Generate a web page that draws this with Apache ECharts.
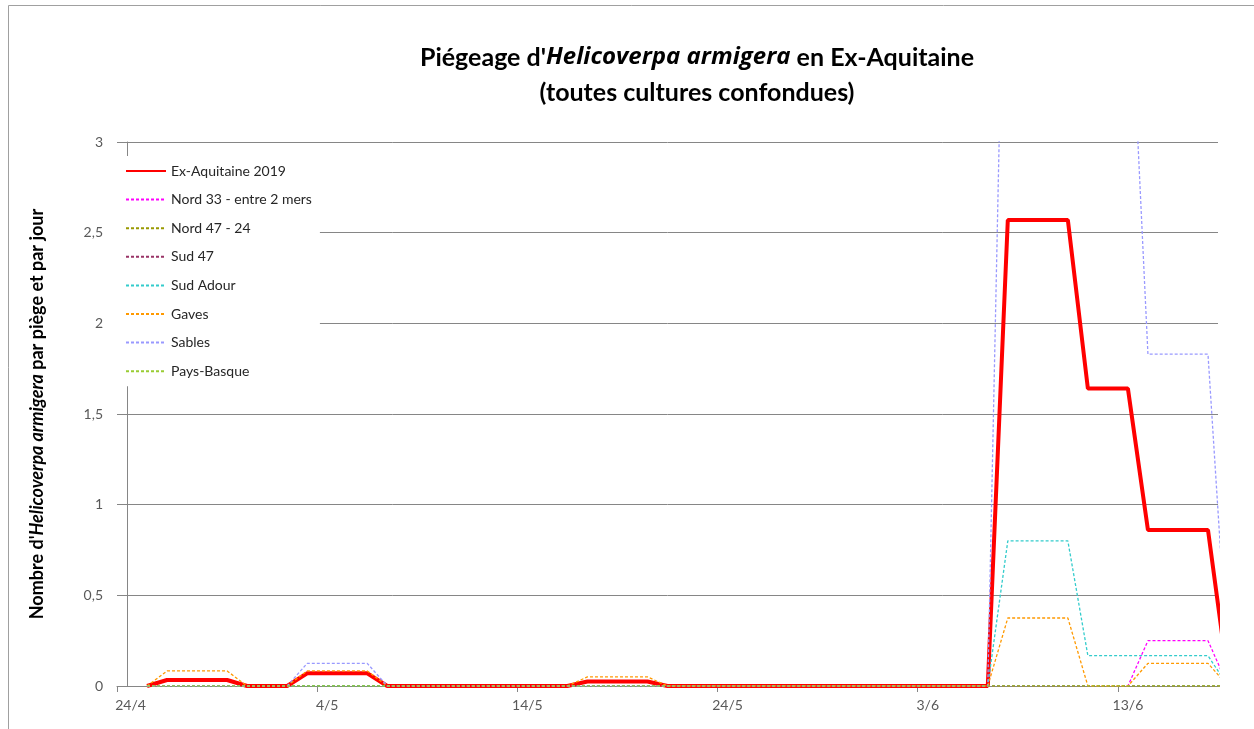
<!DOCTYPE html>
<html>
<head>
<meta charset="utf-8">
<title>Piégeage Helicoverpa armigera</title>
<script src="https://cdn.jsdelivr.net/npm/echarts@6.0.0/dist/echarts.min.js"></script>
<style>
  html, body { margin: 0; padding: 0; background: #fff; }
  #chart { width: 1254px; height: 729px; }
</style>
</head>
<body>
<div id="chart"></div>
<script>
// jours du 24/4 au 17/6 (+ 18/6 hors cadre)
let days = [];
(function () {
  let d = new Date(2019, 3, 24);
  for (let k = 0; k < 56; k++) {
    days.push(d.getDate() + "/" + (d.getMonth() + 1));
    d.setDate(d.getDate() + 1);
  }
})();
// jours étiquetés (index dans days) : 24/4, 4/5, 14/5, 24/5, 3/6, 13/6
let labelDays = [0, 10, 20, 30, 40, 50];

let seriesNames = [
  "Ex-Aquitaine 2019",
  "Nord 33 - entre 2 mers",
  "Nord 47 - 24",
  "Sud 47",
  "Sud Adour",
  "Gaves",
  "Sables",
  "Pays-Basque",
];
let seriesColors = ["#ff0000", "#ff00ff", "#999900", "#993366", "#33cccc", "#ff9900", "#9999ff", "#99cc33"];

// une valeur par jour, index 0 = 24/4 ... index 55 = 18/6
let exAquitaine = [null, 0, 0.033, 0.033, 0.033, 0.033, 0, 0, 0, 0.07, 0.07, 0.07, 0.07, 0, 0, 0, 0, 0, 0, 0, 0, 0, 0, 0.025, 0.025, 0.025, 0.025, 0, 0, 0, 0, 0, 0, 0, 0, 0, 0, 0, 0, 0, 0, 0, 0, 0, 2.57, 2.57, 2.57, 2.57, 1.64, 1.64, 1.64, 0.86, 0.86, 0.86, 0.86, 0.04];
let nord33 = [null, 0, 0, 0, 0, 0, 0, 0, 0, 0, 0, 0, 0, 0, 0, 0, 0, 0, 0, 0, 0, 0, 0, 0, 0, 0, 0, 0, 0, 0, 0, 0, 0, 0, 0, 0, 0, 0, 0, 0, 0, 0, 0, 0, 0, 0, 0, 0, 0, 0, 0, 0.25, 0.25, 0.25, 0.25, 0];
let nord4724 = [null, 0, 0, 0, 0, 0, 0, 0, 0, 0, 0, 0, 0, 0, 0, 0, 0, 0, 0, 0, 0, 0, 0, 0, 0, 0, 0, 0, 0, 0, 0, 0, 0, 0, 0, 0, 0, 0, 0, 0, 0, 0, 0, 0, 0, 0, 0, 0, 0, 0, 0, 0, 0, 0, 0, 0];
let sud47 = [null, 0, 0, 0, 0, 0, 0, 0, 0, 0, 0, 0, 0, 0, 0, 0, 0, 0, 0, 0, 0, 0, 0, 0, 0, 0, 0, 0, 0, 0, 0, 0, 0, 0, 0, 0, 0, 0, 0, 0, 0, 0, 0, 0, 0, 0, 0, 0, 0, 0, 0, 0, 0, 0, 0, 0];
let sudAdour = [null, 0, 0, 0, 0, 0, 0, 0, 0, 0, 0, 0, 0, 0, 0, 0, 0, 0, 0, 0, 0, 0, 0, 0, 0, 0, 0, 0, 0, 0, 0, 0, 0, 0, 0, 0, 0, 0, 0, 0, 0, 0, 0, 0, 0.8, 0.8, 0.8, 0.8, 0.167, 0.167, 0.167, 0.167, 0.167, 0.167, 0.167, 0];
let gaves = [null, 0, 0.083, 0.083, 0.083, 0.083, 0, 0, 0, 0.083, 0.083, 0.083, 0.083, 0, 0, 0, 0, 0, 0, 0, 0, 0, 0, 0.05, 0.05, 0.05, 0.05, 0, 0, 0, 0, 0, 0, 0, 0, 0, 0, 0, 0, 0, 0, 0, 0, 0, 0.375, 0.375, 0.375, 0.375, 0, 0, 0, 0.125, 0.125, 0.125, 0.125, 0];
let sables = [null, 0, 0, 0, 0, 0, 0, 0, 0, 0.125, 0.125, 0.125, 0.125, 0, 0, 0, 0, 0, 0, 0, 0, 0, 0, 0, 0, 0, 0, 0, 0, 0, 0, 0, 0, 0, 0, 0, 0, 0, 0, 0, 0, 0, 0, 0, 5.3, 5.3, 5.3, 5.3, 4.17, 4.17, 4.17, 1.83, 1.83, 1.83, 1.83, 0.1];
let paysBasque = [null, 0, 0, 0, 0, 0, 0, 0, 0, 0, 0, 0, 0, 0, 0, 0, 0, 0, 0, 0, 0, 0, 0, 0, 0, 0, 0, 0, 0, 0, 0, 0, 0, 0, 0, 0, 0, 0, 0, 0, 0, 0, 0, 0, 0, 0, 0, 0, 0, 0, 0, 0, 0, 0, 0, 0];

let allValues = [exAquitaine, nord33, nord4724, sud47, sudAdour, gaves, sables, paysBasque];
let yTicks = [0, 0.5, 1, 1.5, 2, 2.5, 3];

(function () {
  let mychart = echarts.init(document.getElementById("chart"));
  let font = "Lato, 'Open Sans', sans-serif";
  let italicFont = "'Open Sans', Lato, sans-serif";

  let series = allValues.map(function (vals, s) {
    return {
      name: seriesNames[s],
      type: "line",
      symbol: "none",
      data: vals.map(function (v, i) { return [i, v]; }),
      lineStyle: s === 0
        ? { color: seriesColors[s], width: 4 }
        : { color: seriesColors[s], width: 1.3, type: [3, 2] },
      itemStyle: { color: seriesColors[s] },
      animation: false,
    };
  });

  let option = {
    backgroundColor: "#fff",
    textStyle: { fontFamily: font },
    title: {
      text: "Piégeage d'{i|Helicoverpa armigera} en Ex-Aquitaine\n(toutes cultures confondues)",
      left: 692,
      top: 35,
      textAlign: "center",
      textStyle: {
        fontFamily: font,
        fontSize: 25,
        fontWeight: "bold",
        color: "#000",
        lineHeight: 35,
        rich: {
          i: { fontFamily: italicFont, fontSize: 24, fontWeight: "bold", fontStyle: "italic", color: "#000", lineHeight: 35 },
        },
      },
    },
    legend: {
      orient: "vertical",
      left: 117,
      top: 156,
      padding: [8, 8, 8, 8],
      itemWidth: 40,
      itemHeight: 14,
      itemGap: 14.6,
      backgroundColor: "#fff",
      // pas de rond dans la légende, juste le trait
      itemStyle: { opacity: 0 },
      textStyle: { fontFamily: font, fontSize: 14, color: "#262626" },
      data: seriesNames,
    },
    grid: { left: 117, right: 36, top: 142, bottom: 43, containLabel: false },
    xAxis: {
      type: "value",
      // une case par jour, graduations entre les jours
      min: -0.5,
      max: 54.5,
      axisLine: { lineStyle: { color: "#868686", width: 1 } },
      axisTick: {
        show: true,
        length: 6,
        lineStyle: { color: "#868686", width: 1 },
        customValues: labelDays.map(function (i) { return i - 0.5; }),
      },
      axisLabel: {
        color: "#595959",
        fontSize: 14,
        fontFamily: font,
        margin: 12,
        customValues: labelDays,
        formatter: function (v) {
          let idx = Math.round(v);
          // la première étiquette est recalée à gauche par ECharts
          return idx === labelDays[0] ? "{f|" + days[idx] + "}" : days[idx];
        },
        rich: { f: { color: "#595959", fontSize: 14, fontFamily: font, padding: [0, 0, 0, 7] } },
      },
      splitLine: { show: false },
    },
    yAxis: {
      type: "value",
      min: yTicks[0],
      max: yTicks[yTicks.length - 1],
      interval: 0.5,
      name: "Nombre d'{i|Helicoverpa armigera} par piège et par jour",
      nameLocation: "middle",
      nameGap: 71,
      nameRotate: 90,
      nameTextStyle: {
        fontFamily: font,
        fontSize: 18,
        fontWeight: "bold",
        color: "#000",
        rich: { i: { fontFamily: font, fontSize: 18, fontWeight: "bold", fontStyle: "italic", color: "#000" } },
      },
      axisLine: { show: true, lineStyle: { color: "#868686" } },
      axisTick: { show: true, length: 5, lineStyle: { color: "#868686" } },
      axisLabel: {
        color: "#595959",
        fontSize: 14,
        fontFamily: font,
        margin: 14,
        formatter: function (v) { return String(v).replace(".", ","); },
      },
      splitLine: { lineStyle: { color: "#868686", width: 1 } },
    },
    graphic: [
      {
        type: "rect",
        shape: { x: 8.5, y: 5.5, width: 1400, height: 1000 },
        style: { fill: "none", stroke: "#a0a0a0", lineWidth: 1 },
        silent: true,
      },
    ],
    series: series,
  };
  mychart.setOption(option);
})();
</script>
</body>
</html>
